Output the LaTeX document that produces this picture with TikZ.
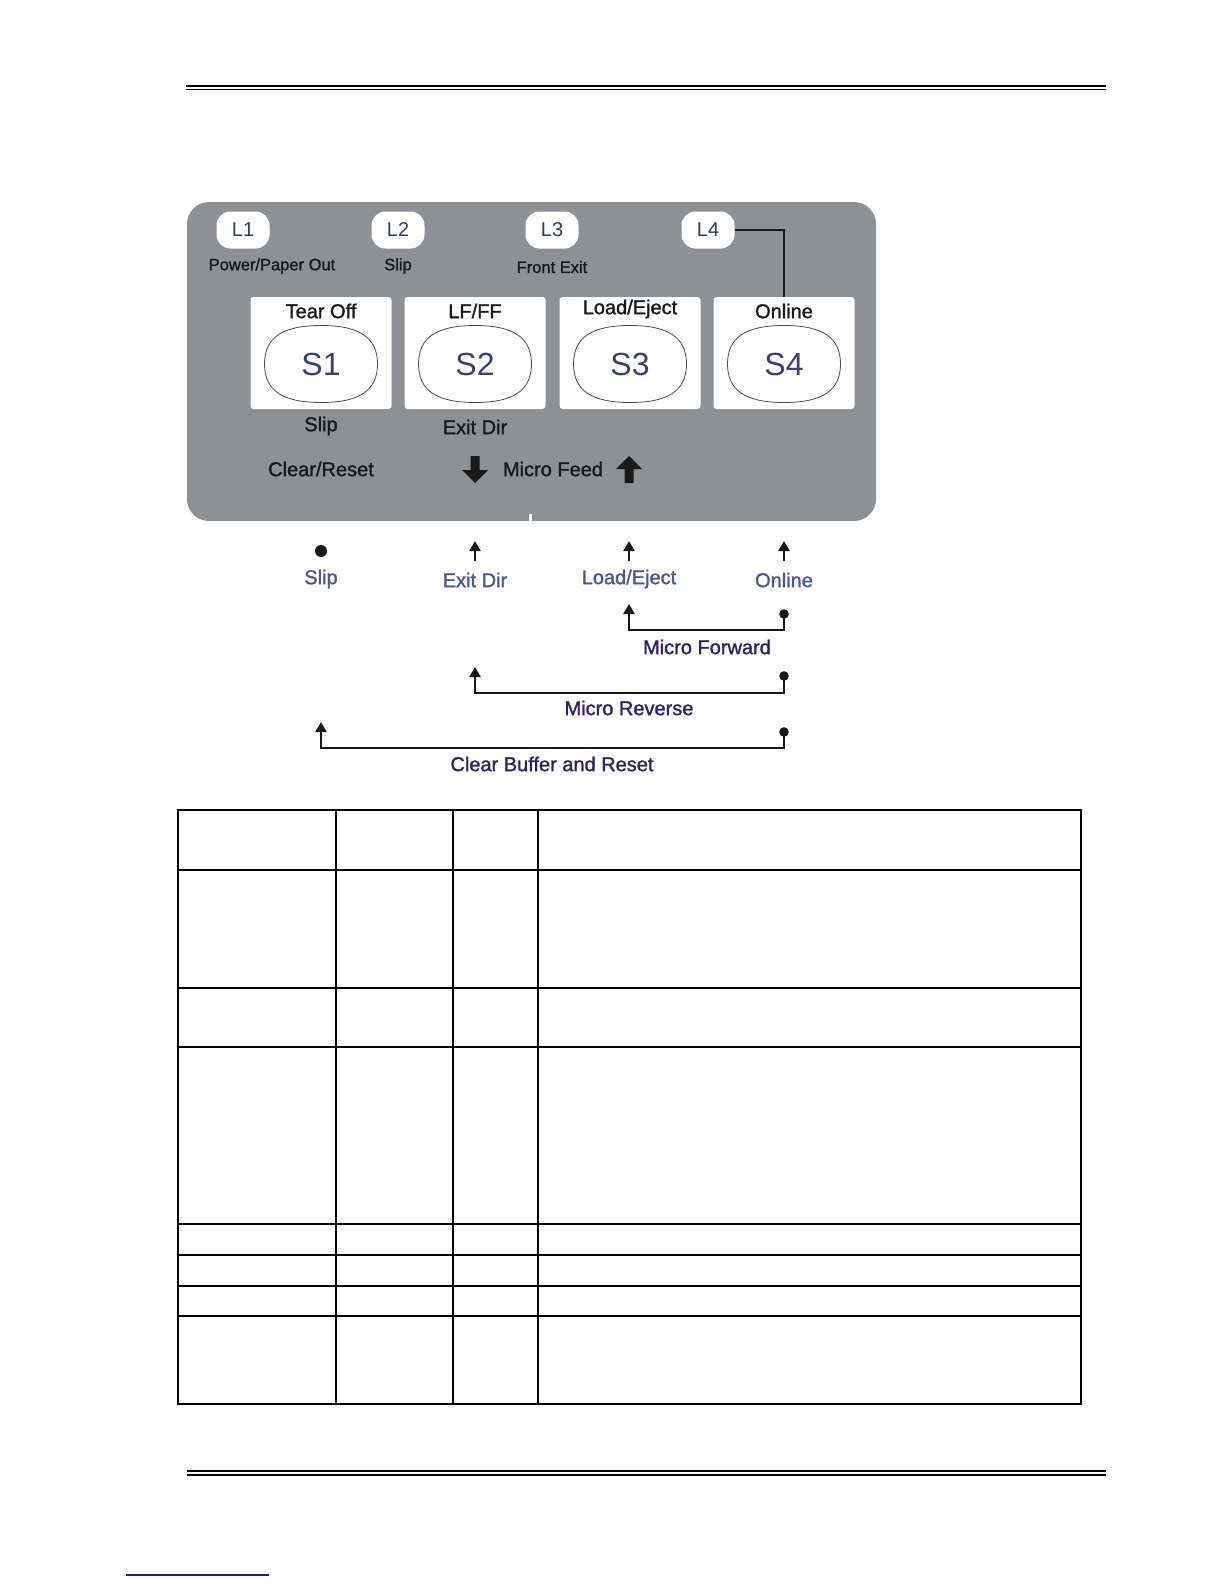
\documentclass[tikz,border=0pt]{standalone}
\usepackage{fontspec}
\setmainfont{Liberation Sans}
\newfontfamily\lblfont[FakeBold=1.3]{Liberation Sans}
\usetikzlibrary{arrows.meta}
\definecolor{panelgray}{RGB}{141,145,148}
\definecolor{sblue}{RGB}{58,62,128}
\definecolor{ledblue}{RGB}{50,56,112}
\definecolor{labblue}{RGB}{72,86,158}
\definecolor{navy}{RGB}{42,32,112}
\definecolor{linkblue}{RGB}{30,30,160}
\newcommand\pfs[1]{\fontsize{#1}{#1}\selectfont}
\tikzset{
  led/.style={fill=white, rounded corners=14pt, minimum width=53pt, minimum height=37pt, inner sep=0pt, text=ledblue, font=\pfs{20}},
  btnbox/.style={fill=white, rounded corners=3pt, minimum width=141pt, minimum height=112pt, inner sep=0pt},
  keytext/.style={inner sep=0pt, text=sblue, font=\pfs{32}},
  keyline/.style={draw=black!70, line width=0.8pt, fill=white},
  darklbl/.style={text=black!90, font=\lblfont\pfs{20}, inner sep=0pt},
  smalllbl/.style={text=black!90, font=\lblfont\pfs{16.5}, inner sep=0pt},
  bluelbl/.style={text=labblue, font=\lblfont\pfs{20}, inner sep=0pt},
  navylbl/.style={text=navy, font=\lblfont\pfs{20}, inner sep=0pt},
  conn/.style={line width=2.6pt, black!90},
  uparrow/.style={conn, -{Triangle[length=10pt,width=11pt]}},
  tbl/.style={line width=1.5pt, black}
}
\newcommand\keycap[4]{%
  \begin{scope}[shift={(#2,#3)}]
    \draw[keyline] (-56.5,0) .. controls (-56.5,-26.5) and (-38.5,-38.5) .. (0,-38.5)
      .. controls (38.5,-38.5) and (56.5,-26.5) .. (56.5,0)
      .. controls (56.5,26.5) and (38.5,38.5) .. (0,38.5)
      .. controls (-38.5,38.5) and (-56.5,26.5) .. (-56.5,0) -- cycle;
    \node[keytext] (#1) at (0,0) {#4};
  \end{scope}}
\begin{document}
\begin{tikzpicture}[x=1pt,y=-1pt]
\useasboundingbox (0,0) rectangle (1224,1584);
\fill[white] (0,0) rectangle (1224,1584);

% header rule
\draw[line width=2.4pt] (186,86) -- (1106,86);
\draw[line width=1.4pt] (186,89.6) -- (1106,89.6);

% panel
\fill[panelgray, rounded corners=22pt] (187,202) rectangle (876,521);
\draw[white, line width=3pt] (530,514) -- (530,521);

% LEDs
\node[led] (L1) at (243,230) {L1};
\node[led] (L2) at (398,230) {L2};
\node[led] (L3) at (552,230) {L3};
\node[led] (L4) at (708,230) {L4};
\node[smalllbl] (l1t) at (272,266) {Power/Paper Out};
\node[smalllbl] (l2t) at (398,266) {Slip};
\node[smalllbl] (l3t) at (552,267) {Front Exit};

% buttons
\node[btnbox] (B1) at (321,353) {};
\node[btnbox] (B2) at (475,353) {};
\node[btnbox] (B3) at (630,353) {};
\node[btnbox] (B4) at (784,353) {};
\node[darklbl] (T1) at (321,311) {Tear Off};
\node[darklbl] (T2) at (475,311) {LF/FF};
\node[darklbl] (T3) at (630,309) {Load/Eject};
\node[darklbl] (T4) at (784,311) {Online};
\keycap{S1}{321}{364}{S1}
\keycap{S2}{475}{364}{S2}
\keycap{S3}{630}{364}{S3}
\keycap{S4}{784}{364}{S4}

\draw[line width=2pt, black!90] (L4.east) -| (B4.north);

% labels under buttons
\node[darklbl] (u1) at (321,426) {Slip};
\node[darklbl] (u2) at (475,427) {Exit Dir};
\node[darklbl] (cr) at (321,469) {Clear/Reset};
\node[darklbl] (mf) at (553,469) {Micro Feed};
% block arrows
\fill[black!90] (470.5,456) -- (479.5,456) -- (479.5,470) -- (488,470) -- (475,483) -- (462,470) -- (470.5,470) -- cycle;
\fill[black!90] (624.5,483) -- (633.5,483) -- (633.5,469) -- (642,469) -- (629,456) -- (616,469) -- (624.5,469) -- cycle;

% function indicators below panel
\coordinate (dotslip) at (321,551);
\fill[black!90] (dotslip) circle (6pt);
\node[bluelbl] (bslip) at (321,579) {Slip};
\node[bluelbl] (bexit) at (475,580) {Exit Dir};
\node[bluelbl] (bload) at (629,579) {Load/Eject};
\node[bluelbl] (bonl) at (784,580) {Online};
\coordinate (ea0) at (475,561); \coordinate (ea1) at (475,541);
\coordinate (la0) at (629,561); \coordinate (la1) at (629,541);
\coordinate (oa0) at (784,561); \coordinate (oa1) at (784,541);
\draw[uparrow] (ea0) -- (ea1);
\draw[uparrow] (la0) -- (la1);
\draw[uparrow] (oa0) -- (oa1);

% Micro Forward
\coordinate (fS) at (784,614); \coordinate (fR) at (784,630); \coordinate (fT) at (629,604);
\fill[black!90] (fS) circle (4.8pt);
\draw[uparrow] (fS) -- (fR) -| (fT);
\node[navylbl] (mfw) at (707,647) {Micro Forward};

% Micro Reverse
\coordinate (rS) at (784,676); \coordinate (rR) at (784,693); \coordinate (rT) at (475,667);
\fill[black!90] (rS) circle (4.8pt);
\draw[uparrow] (rS) -- (rR) -| (rT);
\node[navylbl] (mrv) at (629,708) {Micro Reverse};

% Clear Buffer and Reset
\coordinate (cS) at (784,732); \coordinate (cR) at (784,748); \coordinate (cT) at (321,722);
\fill[black!90] (cS) circle (4.8pt);
\draw[uparrow] (cS) -- (cR) -| (cT);
\node[navylbl] (cbr) at (552,764) {Clear Buffer and Reset};

% table
\draw[tbl] (178,810) rectangle (1081,1404);
\foreach \yy in {870,988,1047,1224,1255,1286,1316}{
  \draw[tbl] (178,\yy) -- (1081,\yy);
}
\foreach \xx in {336,453,538}{
  \draw[tbl] (\xx,810) -- (\xx,1404);
}

% footer rule
\draw[line width=1.4pt] (187,1471) -- (1106,1471);
\draw[line width=2.4pt] (187,1474.8) -- (1106,1474.8);
\draw[linkblue, line width=1.4pt] (126,1575) -- (269,1575);
\end{tikzpicture}
\end{document}
